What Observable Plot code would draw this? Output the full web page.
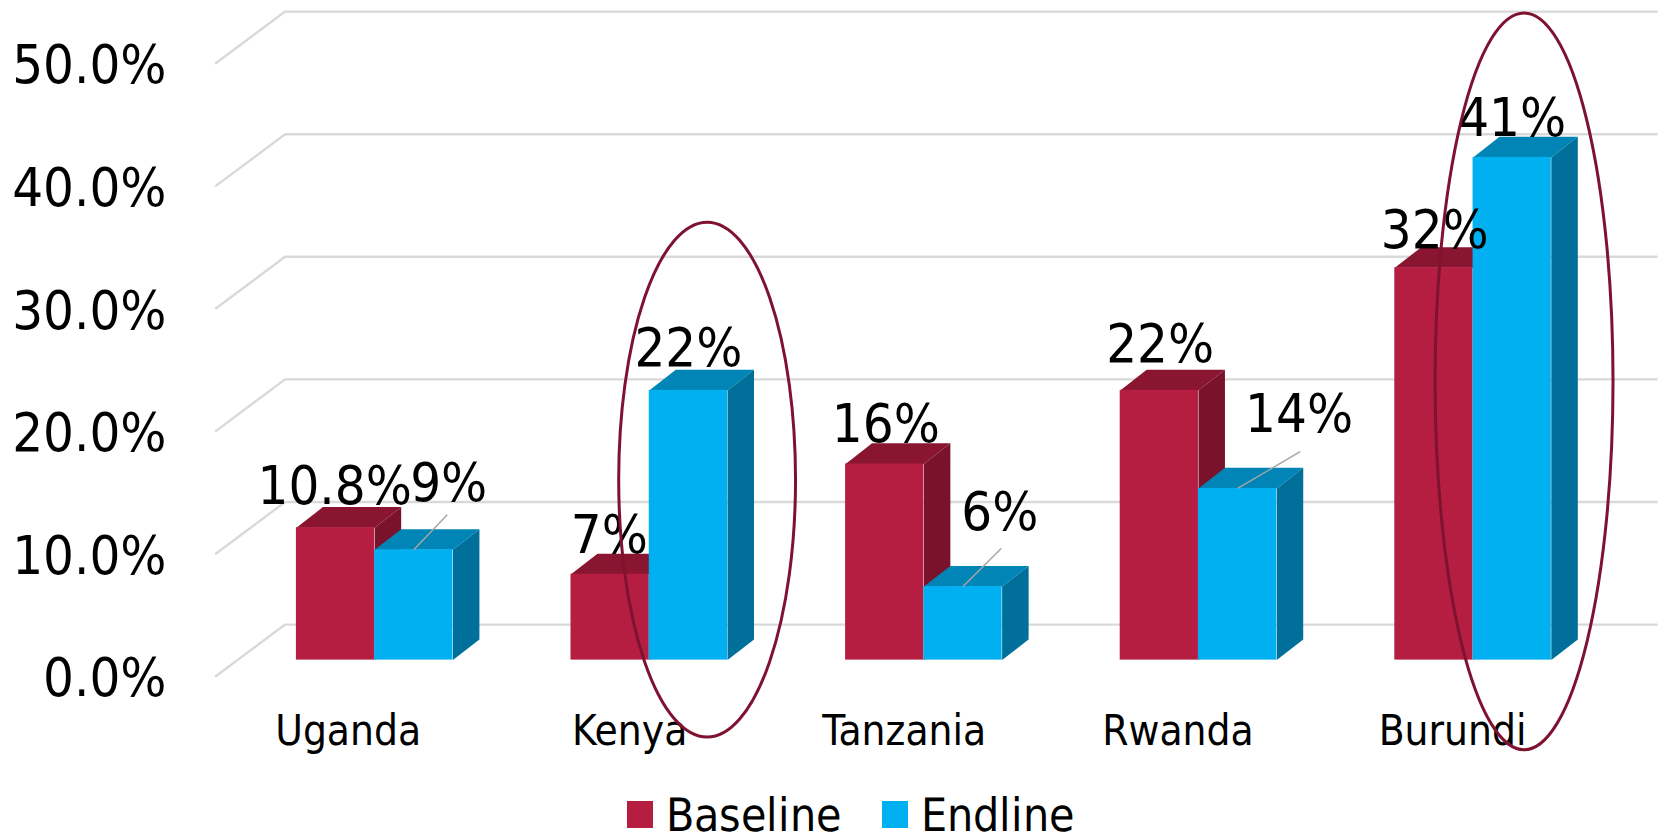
<!DOCTYPE html>
<html>
<head>
<meta charset="utf-8">
<script src="https://cdn.jsdelivr.net/npm/d3@7"></script>
<script src="https://cdn.jsdelivr.net/npm/@observablehq/plot@0.6"></script>
<style>
  /* Tight line metrics so the key can sit right at the foot of the page */
  @font-face {
    font-family: "Key Face";
    src: local("DejaVu Sans Condensed");
    ascent-override: 90%;
    descent-override: 9%;
  }
  html, body { margin: 0; padding: 0; background: #fff; }
  body { font-family: "DejaVu Sans Condensed", "DejaVu Sans", sans-serif; font-stretch: condensed; color: #000; }
  #legend { display: flex; align-items: center; height: 44px; padding-left: 627px; font-family: "Key Face", "DejaVu Sans Condensed", "DejaVu Sans", sans-serif; font-size: 46px; line-height: 44px; }
  #legend i { display: inline-block; width: 26px; height: 27px; margin-right: 13px; position: relative; top: 1px; }
  #legend .entry { display: inline-flex; align-items: center; margin-right: 41px; }
</style>
</head>
<body>
<div id="chart"></div>
<div id="legend"></div>
<script>
// Survey results by country, in percent
const countries = ["Uganda", "Kenya", "Tanzania", "Rwanda", "Burundi"];
const baseline = [10.8, 7, 16, 22, 32];
const endline = [9, 22, 6, 14, 41];
const baselineLabels = ["10.8%", "7%", "16%", "22%", "32%"];
const endlineLabels = ["9%", "22%", "6%", "14%", "41%"];
const yTicks = [0, 10, 20, 30, 40, 50];

// Pseudo-3D box: bars stand part-way into a sheared floor, expressed in data units
const barWidth = 0.285;
const barInset = 0.2145;
const barDepth = {x: 0.0965, y: 1.68};
const floor = {x: 0.2548, y: 4.26, front: 0.32};

// Hand-placed label offsets (slots, percentage points) from the top of each bar
const baselineNudge = [[-0.003, 3.37], [-0.003, 3.11], [0.004, 3.2], [0.003, 3.72], [0.003, 3.03]];
const endlineNudge = [[0.127, 5.4], [0.0, 3.36], [0.134, 6.0], [0.224, 6.02], [0.0, 3.15]];

// Leader lines run from these bars to their displaced labels
const leaderLines = [
  {country: 0, value: 9, dx: 0.122, dy: 2.85},
  {country: 2, value: 6, dx: 0.139, dy: 3.1},
  {country: 3, value: 14, dx: 0.228, dy: 3.0}
];

// Highlight ellipses around the countries with the largest gain
const highlights = [
  {cx: 1.712, cy: 14.68, rx: 0.322, ry: 21.0},
  {cx: 4.687, cy: 22.7, rx: 0.324, ry: 30.05}
];

const series = [
  {name: "Baseline", values: baseline, labels: baselineLabels, nudge: baselineNudge, offset: 0,
   front: "#b51e41", top: "#8a1530", side: "#7a122c"},
  {name: "Endline", values: endline, labels: endlineLabels, nudge: endlineNudge, offset: 1,
   front: "#00b0f0", top: "#0085b6", side: "#00709a"}
];

const fontFamily = '"DejaVu Sans Condensed", "DejaVu Sans", sans-serif';
const labelSize = 54;

// Left and right edge of a bar inside its category slot
const x0 = (i, s) => i + barInset + s.offset * barWidth;
const x1 = (i, s) => x0(i, s) + barWidth;

// Flat polygons for the top and side faces of every bar in a series
function topFaces(s) {
  return s.values.flatMap((v, i) => [
    {k: i, x: x0(i, s), y: v},
    {k: i, x: x1(i, s), y: v},
    {k: i, x: x1(i, s) + barDepth.x, y: v + barDepth.y},
    {k: i, x: x0(i, s) + barDepth.x, y: v + barDepth.y}
  ]);
}
function sideFaces(s) {
  return s.values.flatMap((v, i) => [
    {k: i, x: x1(i, s), y: 0},
    {k: i, x: x1(i, s), y: v},
    {k: i, x: x1(i, s) + barDepth.x, y: v + barDepth.y},
    {k: i, x: x1(i, s) + barDepth.x, y: barDepth.y}
  ]);
}

const wallLeft = (1 - floor.front) * floor.x;
const wallRise = (1 - floor.front) * floor.y;
const frontLeft = -floor.front * floor.x;
const frontDrop = -floor.front * floor.y;

const barMarks = series.flatMap((s) => [
  Plot.line(topFaces(s), {x: "x", y: "y", z: "k", fill: s.top, stroke: "none"}),
  Plot.line(sideFaces(s), {x: "x", y: "y", z: "k", fill: s.side, stroke: "none"}),
  Plot.rect(s.values, {
    x1: (d, i) => x0(i, s),
    x2: (d, i) => x1(i, s),
    y1: 0,
    y2: (d) => d,
    fill: s.front
  })
]);

const labelMarks = series.map((s) =>
  Plot.text(s.values, {
    x: (d, i) => (x0(i, s) + x1(i, s)) / 2 + s.nudge[i][0],
    y: (d, i) => d + s.nudge[i][1],
    text: (d, i) => s.labels[i],
    fontSize: labelSize,
    fill: "#000"
  })
);

const categoryShift = [-0.097, -0.072, -0.072, -0.075, -0.075];

// Ellipses are drawn through the plot's own scales so they follow the axes
function highlightMark(index, scales) {
  const g = d3.create("svg:g");
  for (const h of highlights) {
    g.append("ellipse")
      .attr("cx", scales.x(h.cx))
      .attr("cy", scales.y(h.cy))
      .attr("rx", Math.abs(scales.x(h.cx + h.rx) - scales.x(h.cx)))
      .attr("ry", Math.abs(scales.y(h.cy + h.ry) - scales.y(h.cy)))
      .attr("fill", "none")
      .attr("stroke", "#7f1231")
      .attr("stroke-width", 3);
  }
  return g.node();
}

const chart = Plot.plot({
  width: 1660,
  height: 791,
  marginLeft: 237,
  marginRight: 50,
  marginTop: 0,
  marginBottom: 0,
  style: {fontFamily, fontStretch: "condensed", background: "#fff", overflow: "visible"},
  x: {domain: [0, countries.length], range: [237, 1610], axis: null},
  y: {domain: [0, 50], range: [659.6, 46.6], axis: null},
  marks: [
    // Back wall gridlines and their diagonal returns along the side wall
    Plot.ruleY(yTicks, {
      x1: wallLeft,
      x2: countries.length + wallLeft,
      y: (d) => d + wallRise,
      stroke: "#d9d9d9",
      strokeWidth: 2.4
    }),
    Plot.link(yTicks, {
      x1: frontLeft,
      y1: (d) => d + frontDrop,
      x2: wallLeft,
      y2: (d) => d + wallRise,
      stroke: "#d9d9d9",
      strokeWidth: 2.4
    }),
    ...barMarks,
    Plot.link(leaderLines, {
      x1: (d) => (x0(d.country, series[1]) + x1(d.country, series[1])) / 2,
      y1: (d) => d.value,
      x2: (d) => (x0(d.country, series[1]) + x1(d.country, series[1])) / 2 + d.dx,
      y2: (d) => d.value + d.dy,
      stroke: "#a6a6a6",
      strokeWidth: 1.5
    }),
    ...labelMarks,
    // Percentage axis on the front edge of the floor
    Plot.axisY(yTicks, {
      anchor: "left",
      tickSize: 0,
      tickPadding: 71,
      tickFormat: (d) => d.toFixed(1) + "%",
      fontSize: labelSize,
      dy: 19,
      label: null
    }),
    Plot.text(countries, {
      x: (d, i) => i + 0.5 + categoryShift[i],
      y: -5.8,
      text: (d) => d,
      fontSize: 42,
      fill: "#000"
    }),
    highlightMark
  ]
});
document.getElementById("chart").appendChild(chart);
chart.style.display = "block";

// Series key beneath the chart
const legend = d3.select("#legend");
for (const s of series) {
  const entry = legend.append("span").attr("class", "entry");
  entry.append("i").style("background", s.front);
  entry.append("span").text(s.name);
}
</script>
</body>
</html>
